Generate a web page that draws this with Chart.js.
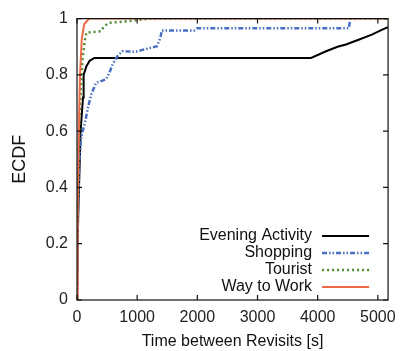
<!DOCTYPE html>
<html>
<head>
<meta charset="utf-8">
<script src="https://cdn.jsdelivr.net/npm/chart.js@4/dist/chart.umd.min.js"></script>
<style>
  html, body { margin: 0; padding: 0; background: #fff; }
  #wrap { width: 404px; height: 351px; }
</style>
</head>
<body>
<div id="wrap"><canvas id="ecdfChart"></canvas></div>
<script>
// ECDF of time between revisits, per scenario

const xTicks = [0, 1000, 2000, 3000, 4000, 5000];
const yTicks = [0, 0.2, 0.4, 0.6, 0.8, 1];
const xMax = 5170;

// Evening Activity
const eveningT = [0, 20, 60, 100, 110, 155, 210, 290, 3890, 4140, 4330, 4470, 4680, 4900, 5065, 5170];
const eveningF = [0, 0.30, 0.60, 0.72, 0.80, 0.83, 0.85, 0.86, 0.86, 0.884, 0.90, 0.908, 0.925, 0.943, 0.96, 0.97];

// Shopping
const shoppingT = [0, 15, 40, 70, 128, 182, 237, 318, 400, 482, 537, 591, 673, 755, 974, 1056, 1330, 1385, 1410, 1950, 2000, 4520, 4540];
const shoppingF = [0, 0.30, 0.50, 0.58, 0.626, 0.684, 0.731, 0.772, 0.778, 0.784, 0.807, 0.837, 0.867, 0.884, 0.882, 0.887, 0.902, 0.931, 0.958, 0.958, 0.966, 0.966, 1];

// Tourist
const touristT = [0, 15, 40, 90, 128, 155, 400, 450, 535, 810, 1200, 5170];
const touristF = [0, 0.35, 0.65, 0.85, 0.92, 0.95, 0.955, 0.973, 0.985, 0.99, 1, 1];

// Way to Work
const workT = [0, 10, 30, 50, 80, 120, 200, 5170];
const workF = [0, 0.30, 0.60, 0.80, 0.93, 0.98, 1, 1];

const labels = ['Evening Activity', 'Shopping', 'Tourist', 'Way to Work'];
const colors = ['#000000', '#4a6fc2', '#4f8a34', '#ec6a45'];

function toPoints(xs, ys) {
    return xs.map((x, i) => ({ x: x, y: ys[i] }));
}

const fontFamily = '"Liberation Sans", Arial, sans-serif';

// Frame, inward ticks (mirrored) and the legend, gnuplot style
const framePlugin = {
    id: 'frame',
    afterDatasetsDraw(chart) {
        const ctx = chart.ctx;
        const area = chart.chartArea;
        const xs = chart.scales.x;
        const ys = chart.scales.y;
        const tick = 5;

        ctx.save();
        ctx.strokeStyle = '#111';
        ctx.lineWidth = 1.2;
        ctx.strokeRect(area.left, area.top, area.right - area.left, area.bottom - area.top);

        ctx.beginPath();
        xTicks.forEach(v => {
            const px = xs.getPixelForValue(v);
            ctx.moveTo(px, area.bottom);
            ctx.lineTo(px, area.bottom - tick);
            ctx.moveTo(px, area.top);
            ctx.lineTo(px, area.top + tick);
        });
        yTicks.forEach(v => {
            const py = ys.getPixelForValue(v);
            ctx.moveTo(area.left, py);
            ctx.lineTo(area.left + tick, py);
            ctx.moveTo(area.right, py);
            ctx.lineTo(area.right - tick, py);
        });
        ctx.stroke();

        // Legend, text right-aligned with the line sample on its right
        ctx.font = '16px ' + fontFamily;
        ctx.textAlign = 'right';
        ctx.textBaseline = 'middle';
        const textRight = area.right - 76;
        const lineStart = area.right - 66;
        const lineEnd = area.right - 19;
        chart.data.datasets.forEach((ds, i) => {
            const y = area.bottom - 64 + i * 17;
            ctx.fillStyle = '#111';
            ctx.fillText(ds.label, textRight, y);
            ctx.beginPath();
            ctx.strokeStyle = ds.borderColor;
            ctx.lineWidth = ds.borderWidth;
            ctx.setLineDash(ds.borderDash || []);
            ctx.moveTo(lineStart, y);
            ctx.lineTo(lineEnd, y);
            ctx.stroke();
            ctx.setLineDash([]);
        });
        ctx.restore();
    }
};

const ctx = document.getElementById('ecdfChart');

new Chart(ctx, {
    type: 'line',
    data: {
        datasets: [
            {
                label: labels[0],
                data: toPoints(eveningT, eveningF),
                borderColor: colors[0],
                borderWidth: 2,
                order: 3
            },
            {
                label: labels[1],
                data: toPoints(shoppingT, shoppingF),
                borderColor: colors[1],
                borderWidth: 2.5,
                borderDash: [5, 2, 1.5, 2, 1.5, 2],
                order: 2
            },
            {
                label: labels[2],
                data: toPoints(touristT, touristF),
                borderColor: colors[2],
                borderWidth: 2.5,
                borderDash: [2, 3],
                order: 1
            },
            {
                label: labels[3],
                data: toPoints(workT, workF),
                borderColor: colors[3],
                borderWidth: 2,
                order: 0
            }
        ]
    },
    options: {
        responsive: true,
        maintainAspectRatio: false,
        animation: false,
        layout: {
            padding: { top: 17, right: 11, left: 0, bottom: 0 }
        },
        elements: {
            point: { radius: 0 },
            line: { tension: 0, fill: false }
        },
        plugins: {
            legend: { display: false },
            tooltip: { enabled: false }
        },
        scales: {
            x: {
                type: 'linear',
                min: 0,
                max: xMax,
                afterBuildTicks: scale => {
                    scale.ticks = xTicks.map(v => ({ value: v }));
                },
                afterFit: scale => {
                    scale.height = 51;
                },
                grid: { display: false, drawTicks: false },
                border: { display: false },
                ticks: {
                    padding: 8,
                    color: '#222',
                    font: { family: fontFamily, size: 16 },
                    maxRotation: 0,
                    callback: value => String(value)
                },
                title: {
                    display: true,
                    text: 'Time between Revisits [s]',
                    color: '#111',
                    font: { family: fontFamily, size: 16 },
                    padding: { top: 2, bottom: 0 }
                }
            },
            y: {
                type: 'linear',
                min: 0,
                max: 1,
                afterBuildTicks: scale => {
                    scale.ticks = yTicks.map(v => ({ value: v }));
                },
                afterFit: scale => {
                    scale.width = 77;
                },
                grid: { display: false, drawTicks: false },
                border: { display: false },
                ticks: {
                    padding: 9,
                    color: '#222',
                    font: { family: fontFamily, size: 16 },
                    callback: value => String(value)
                },
                title: {
                    display: true,
                    text: 'ECDF',
                    color: '#111',
                    font: { family: fontFamily, size: 18 },
                    padding: { top: 9, bottom: 0 }
                }
            }
        }
    },
    plugins: [framePlugin]
});
</script>
</body>
</html>
